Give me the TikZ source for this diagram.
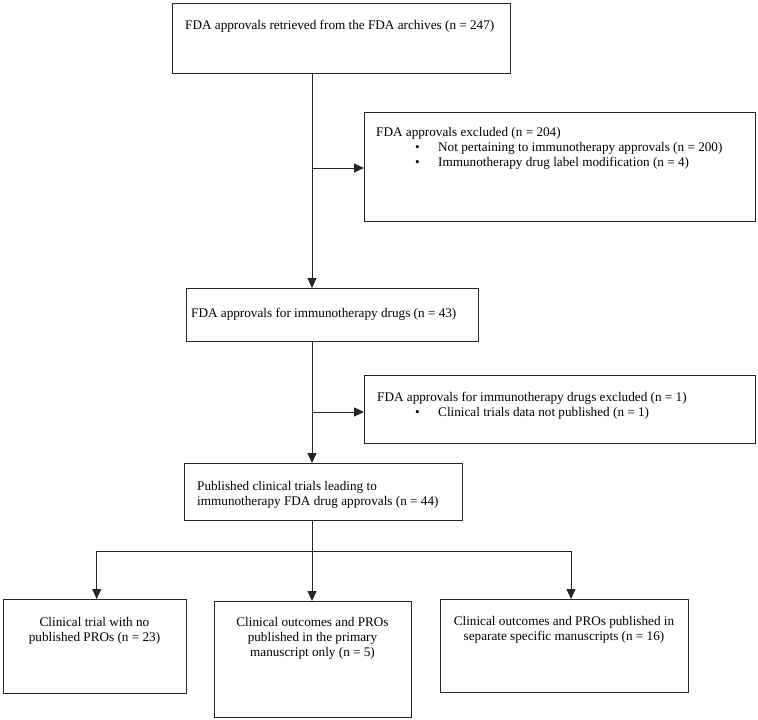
\documentclass[tikz,border=0pt]{standalone}
\usepackage{fontspec}
\setmainfont{Liberation Serif}
\usetikzlibrary{arrows.meta}
\begin{document}
\begin{tikzpicture}[x=1pt,y=-1pt,
  box/.style={draw=black!85, line width=1.1pt, inner sep=0pt, anchor=north west},
  conn/.style={draw=black!85, line width=1pt},
  arr/.style={conn, -{Triangle[length=10pt,width=9pt]}},
  txt/.style={inner sep=0pt, font=\fontsize{13.2}{15.2}\selectfont},
  lt/.style={txt, anchor=base west},
  ct/.style={txt, anchor=base},
  ]
\useasboundingbox (0,0) rectangle (758,720);
% boxes
\node[box, minimum width=338pt, minimum height=70pt] (b1) at (172,3) {};
\node[box, minimum width=391pt, minimum height=109pt] (b2) at (364,112) {};
\node[box, minimum width=292pt, minimum height=53pt] (b3) at (186,288) {};
\node[box, minimum width=391pt, minimum height=68pt] (b4) at (364,375) {};
\node[box, minimum width=278pt, minimum height=57pt] (b5) at (184,463) {};
\node[box, minimum width=183pt, minimum height=94pt] (b6) at (3,599) {};
\node[box, minimum width=197pt, minimum height=116pt] (b7) at (214,601) {};
\node[box, minimum width=248pt, minimum height=93pt] (b8) at (440,599) {};
% texts
\node[lt] (t1) at (185,29.5) {FDA approvals retrieved from the FDA archives (n = 247)};
\node[lt] (t2a) at (376,136.5) {FDA approvals excluded (n = 204)};
\node[lt] (t2b) at (415,151.7) {•};
\node[lt] (t2c) at (438,151.7) {Not pertaining to immunotherapy approvals (n = 200)};
\node[lt] (t2d) at (415,166.9) {•};
\node[lt] (t2e) at (438,166.9) {Immunotherapy drug label modification (n = 4)};
\node[lt] (t3) at (191,317.5) {FDA approvals for immunotherapy drugs (n = 43)};
\node[lt] (t4a) at (377,401) {FDA approvals for immunotherapy drugs excluded (n = 1)};
\node[lt] (t4b) at (415,416.2) {•};
\node[lt] (t4c) at (438,416.2) {Clinical trials data not published (n = 1)};
\node[lt] (t5a) at (197,490) {Published clinical trials leading to};
\node[lt] (t5b) at (197,505.2) {immunotherapy FDA drug approvals (n = 44)};
\node[ct] (t6a) at (94.5,626) {Clinical trial with no};
\node[ct] (t6b) at (94.5,641.2) {published PROs (n = 23)};
\node[ct] (t7a) at (312.5,626) {Clinical outcomes and PROs};
\node[ct] (t7b) at (312.5,641.2) {published in the primary};
\node[ct] (t7c) at (312.5,656.4) {manuscript only (n = 5)};
\node[ct] (t8a) at (564,625.5) {Clinical outcomes and PROs published in};
\node[ct] (t8b) at (564,640.7) {separate specific manuscripts (n = 16)};
% junctions
\coordinate (j1) at (312,168);
\coordinate (j2) at (312,412);
\coordinate (j3) at (312,551);
\coordinate (jl) at (96.7,551);
\coordinate (jr) at (571,551);
% connectors
\draw[arr] (b1.south -| j1) -- (b3.north -| j1);
\draw[arr] (j1) -- (b2.west |- j1);
\draw[arr] (b3.south -| j2) -- (b5.north -| j2);
\draw[arr] (j2) -- (b4.west |- j2);
\draw[conn] (b5.south -| j3) -- (j3);
\draw[arr] (j3) -- (b7.north -| j3);
\draw[arr] (j3) -| (b6.north -| jl);
\draw[arr] (j3) -| (b8.north -| jr);
\end{tikzpicture}
\end{document}
